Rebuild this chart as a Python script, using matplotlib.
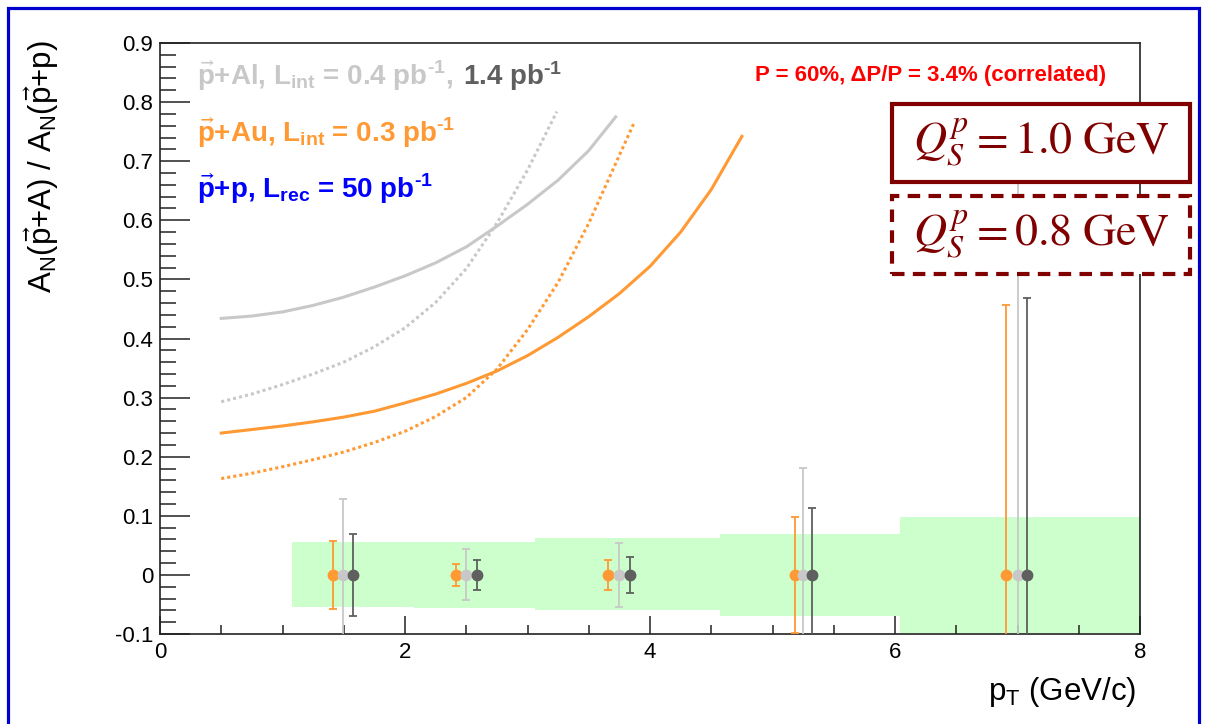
import numpy as np
import matplotlib
matplotlib.use("Agg")
import matplotlib.pyplot as plt
from matplotlib.patches import Rectangle

plt.rcParams['font.family'] = ['Liberation Sans', 'DejaVu Sans']
plt.rcParams['mathtext.default'] = 'regular'

# --- theory curves: A_N(p+A)/A_N(p+p) vs pT ---
pt_al_q10 = [0.5, 0.75, 1.0, 1.25, 1.5, 1.75, 2.0, 2.25, 2.5, 2.75, 3.0, 3.25, 3.5, 3.72]
r_al_q10 = [0.434, 0.438, 0.445, 0.456, 0.470, 0.487, 0.506, 0.528, 0.555, 0.590, 0.627, 0.668, 0.718, 0.775]

pt_al_q08 = [0.5, 0.75, 1.0, 1.25, 1.5, 1.75, 2.0, 2.25, 2.5, 2.75, 3.0, 3.24]
r_al_q08 = [0.293, 0.306, 0.322, 0.340, 0.360, 0.386, 0.418, 0.461, 0.518, 0.595, 0.685, 0.784]

pt_au_q10 = [0.5, 0.75, 1.0, 1.25, 1.5, 1.75, 2.0, 2.25, 2.5, 2.75, 3.0, 3.25, 3.5,
             3.75, 4.0, 4.25, 4.5, 4.75]
r_au_q10 = [0.240, 0.246, 0.252, 0.259, 0.267, 0.277, 0.291, 0.306, 0.324, 0.345, 0.371,
            0.402, 0.437, 0.476, 0.522, 0.580, 0.652, 0.742]

pt_au_q08 = [0.5, 0.75, 1.0, 1.25, 1.5, 1.75, 2.0, 2.25, 2.5, 2.75, 3.0, 3.25, 3.5, 3.75, 3.87]
r_au_q08 = [0.163, 0.172, 0.183, 0.195, 0.208, 0.224, 0.243, 0.268, 0.300, 0.348, 0.415,
            0.495, 0.595, 0.710, 0.765]

# --- projected statistical uncertainties (points at zero) ---
pt_au = [1.415, 2.414, 3.66, 5.18, 6.91]
pt_al_low = [1.49, 2.495, 3.747, 5.25, 7.0]
pt_al_high = [1.578, 2.59, 3.837, 5.32, 7.08]
err_au = [0.057, 0.019, 0.025, 0.098, 0.456]
err_al_low = [0.128, 0.043, 0.054, 0.181, 0.75]
err_al_high = [0.070, 0.025, 0.031, 0.113, 0.468]

# --- systematic band per pT bin ---
band_edges = [1.075, 2.07, 3.06, 4.57, 6.04, 8.0]
band_up = [0.056, 0.056, 0.062, 0.069, 0.0975]
band_dn = [0.055, 0.0565, 0.059, 0.0695, 0.098]

ytick_vals = [-0.1, 0.0, 0.1, 0.2, 0.3, 0.4, 0.5, 0.6, 0.7, 0.8, 0.9]
ytick_labels = ['-0.1', '0', '0.1', '0.2', '0.3', '0.4', '0.5', '0.6', '0.7', '0.8', '0.9']
xtick_vals = [0, 2, 4, 6, 8]

c_orange = '#ff9933'
c_light = '#c8c8c8'
c_dark = '#5f5f5f'
c_band = '#ccffcc'
c_qs = '#800000'
hy = '\u2010'  # short hyphen for the pb^-1 exponents

W, H = 1205, 724
fig = plt.figure(figsize=(W / 100, H / 100), dpi=100)
ax = fig.add_axes([160 / W, 1 - 634 / H, 980 / W, 591 / H])

# band
edges = np.array(band_edges)
up = np.array(band_up)
dn = np.array(band_dn)
ax.bar(edges[:-1], up + dn, width=np.diff(edges), bottom=-dn, align='edge',
       color=c_band, linewidth=0, zorder=1)

# curves
ax.plot(pt_al_q10, r_al_q10, color=c_light, lw=2.2, zorder=2)
ax.plot(pt_al_q08, r_al_q08, color=c_light, lw=2.2, ls=(0, (1, 1)), zorder=2)
ax.plot(pt_au_q10, r_au_q10, color=c_orange, lw=2.2, zorder=2)
ax.plot(pt_au_q08, r_au_q08, color=c_orange, lw=2.2, ls=(0, (1, 1)), zorder=2)

# points with error bars
for xs, es, col in [(pt_au, err_au, c_orange),
                    (pt_al_low, err_al_low, c_light),
                    (pt_al_high, err_al_high, c_dark)]:
    ax.errorbar(xs, np.zeros(len(xs)), yerr=es, fmt='o', color=col, ms=7.5,
                capsize=3, elinewidth=1.3, capthick=1.3, zorder=3)

ax.set_xlim(0, 8)
ax.set_ylim(-0.1, 0.9)
ax.set_xticks(xtick_vals)
ax.set_xticklabels([str(v) for v in xtick_vals])
ax.set_xticks(np.arange(0, 8.01, 0.5), minor=True)
ax.set_yticks(ytick_vals)
ax.set_yticklabels(ytick_labels)
ax.set_yticks(np.arange(-0.1, 0.901, 0.02), minor=True)
ax.tick_params(which='both', direction='in', width=1.1, labelsize=16,
               top=False, right=False, color='#222222')
ax.tick_params(axis='y', which='major', length=21.5, pad=5)
ax.tick_params(axis='y', which='minor', length=11.5)
ax.tick_params(axis='x', which='major', length=13, pad=6)
ax.tick_params(axis='x', which='minor', length=6.5)
for sp in ax.spines.values():
    sp.set_linewidth(1.2)
    sp.set_color('#222222')

# legend-like labels
ax.text(0.0378, 0.929, r'$\vec{p}$+Al, L$_{int}$ = 0.4 pb$^{' + hy + '1}$,',
        transform=ax.transAxes, fontsize=20, fontweight='bold', color=c_light,
        va='baseline', ha='left')
ax.text(0.309, 0.929, r'1.4 pb$^{' + hy + '1}$', transform=ax.transAxes, fontsize=20,
        fontweight='bold', color=c_dark, va='baseline', ha='left')
ax.text(0.0378, 0.833, r'$\vec{p}$+Au, L$_{int}$ = 0.3 pb$^{' + hy + '1}$',
        transform=ax.transAxes, fontsize=20, fontweight='bold', color=c_orange,
        va='baseline', ha='left')
ax.text(0.0378, 0.738, r'$\vec{p}$+p, L$_{rec}$ = 50 pb$^{' + hy + '1}$',
        transform=ax.transAxes, fontsize=20, fontweight='bold', color='#0000ff',
        va='baseline', ha='left')
ax.text(0.965, 0.935, 'P = 60%, \u0394P/P = 3.4% (correlated)',
        transform=ax.transAxes, fontsize=16, fontweight='bold', color='#ff0000',
        va='baseline', ha='right')

# axis titles
fig.text(42 / W, 1 - 40 / H, r'A$_N$($\vec{p}$+A) / A$_N$($\vec{p}$+p)',
         rotation=90, ha='center', va='top', fontsize=22.5)
fig.text(1136 / W, 1 - 700 / H, r'p$_T$ (GeV/c)', ha='right', va='baseline',
         fontsize=22.5)

# saturation scale boxes
for top, bot, ls, label in [(104, 182, '-', r'$\mathit{Q}_{\mathit{S}}^{\mathit{p}} = 1.0\ GeV$'),
                            (196, 274, (0, (3, 2)), r'$\mathit{Q}_{\mathit{S}}^{\mathit{p}} = 0.8\ GeV$')]:
    fig.add_artist(Rectangle((892 / W, 1 - bot / H), (1190 - 892) / W, (bot - top) / H,
                             transform=fig.transFigure, facecolor='white',
                             edgecolor=c_qs, lw=3, ls=ls, zorder=10))
    fig.text(1041 / W, 1 - (top + bot) / 2 / H, label, family='STIXGeneral',
             math_fontfamily='stix', fontsize=33, color=c_qs, ha='center',
             va='center', zorder=11)

# page frame
fig.add_artist(Rectangle((8 / W, -0.05), (1199 - 8) / W, 1.05 - 8 / H,
                         transform=fig.transFigure, fill=False,
                         edgecolor='#0000cc', lw=2.3, zorder=20))

fig.savefig('out.png', dpi=100)
